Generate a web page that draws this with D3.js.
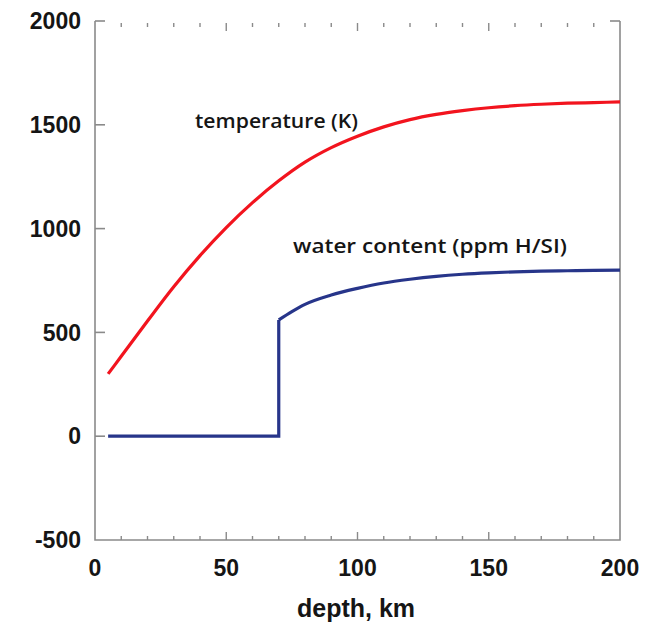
<!DOCTYPE html>
<html>
<head>
<meta charset="utf-8">
<script src="https://cdn.jsdelivr.net/npm/d3@7"></script>
<style>
  body { margin: 0; background: #fff; }
  svg text { fill: #151515; }
</style>
</head>
<body>
<div id="chart"></div>
<script>
// temperature profile (K) vs depth (km)
const tempDepth = [5, 10, 20, 30, 40, 50, 60, 70, 80, 90, 100, 110, 120, 130, 140, 150, 160, 170, 180, 190, 200];
const tempValue = [300, 385, 555, 720, 870, 1005, 1125, 1230, 1320, 1390, 1445, 1490, 1525, 1550, 1568, 1582, 1592, 1599, 1604, 1607, 1610];

// water content (ppm H/Si) vs depth (km)
const waterDepth = [5, 70, 70, 75, 80, 90, 100, 110, 120, 130, 140, 150, 160, 170, 180, 190, 200];
const waterValue = [0, 0, 560, 600, 635, 680, 712, 738, 756, 770, 780, 787, 792, 795, 797, 799, 800];

const xTicks = [0, 50, 100, 150, 200];
const yTicks = [-500, 0, 500, 1000, 1500, 2000];

const width = 650, height = 633;

const svg = d3.select("#chart")
    .append("svg")
    .attr("width", width)
    .attr("height", height);

const x = d3.scaleLinear().domain([0, 200]).range([95, 620]);
const y = d3.scaleLinear().domain([-500, 2000]).range([540, 21]);

const axisColor = "#8a8a8a";

// frame: left, bottom, right; top only near corners
const frame = svg.append("g")
    .attr("stroke", axisColor)
    .attr("stroke-width", 1.6)
    .attr("fill", "none");

frame.append("path")
    .attr("d", "M" + x(0) + "," + y(2000) + "V" + y(-500) + "H" + x(200) + "V" + y(2000));
frame.append("path")
    .attr("d", "M" + x(0) + "," + y(2000) + "h10");
frame.append("path")
    .attr("d", "M" + x(200) + "," + y(2000) + "h-10");

// ticks on x every 10 km, bottom and top, pointing inward
const xMinor = d3.range(10, 200, 10);
const tickLen = d => d % 50 === 0 ? 8 : 4;

svg.append("g")
    .selectAll("line")
    .data(xMinor)
    .enter()
    .append("line")
    .attr("x1", d => x(d))
    .attr("x2", d => x(d))
    .attr("y1", y(-500))
    .attr("y2", d => y(-500) - tickLen(d))
    .attr("stroke", axisColor)
    .attr("stroke-width", 1.4);

svg.append("g")
    .selectAll("line")
    .data(xMinor)
    .enter()
    .append("line")
    .attr("x1", d => x(d))
    .attr("x2", d => x(d))
    .attr("y1", y(2000) + 2)
    .attr("y2", d => y(2000) + 2 + tickLen(d))
    .attr("stroke", axisColor)
    .attr("stroke-width", 1.4);

// y ticks inward
svg.append("g")
    .selectAll("line")
    .data(yTicks.filter(d => d > -500 && d < 2000))
    .enter()
    .append("line")
    .attr("x1", x(0))
    .attr("x2", x(0) + 10)
    .attr("y1", d => y(d))
    .attr("y2", d => y(d))
    .attr("stroke", axisColor)
    .attr("stroke-width", 1.6);

// tick labels
svg.append("g")
    .selectAll("text")
    .data(yTicks)
    .enter()
    .append("text")
    .attr("x", 81)
    .attr("y", d => y(d))
    .attr("dy", "0.36em")
    .attr("text-anchor", "end")
    .style("font-family", "Liberation Sans, Arial, sans-serif")
    .style("font-weight", "bold")
    .style("font-size", "23px")
    .text(d => d);

svg.append("g")
    .selectAll("text")
    .data(xTicks)
    .enter()
    .append("text")
    .attr("x", d => x(d))
    .attr("y", 576)
    .attr("text-anchor", "middle")
    .style("font-family", "Liberation Sans, Arial, sans-serif")
    .style("font-weight", "bold")
    .style("font-size", "23px")
    .text(d => d);

svg.append("text")
    .attr("x", 356)
    .attr("y", 617)
    .attr("text-anchor", "middle")
    .style("font-family", "Liberation Sans, Arial, sans-serif")
    .style("font-weight", "bold")
    .style("font-size", "25px")
    .text("depth, km");

// lines
const line = d3.line()
    .x(d => x(d[0]))
    .y(d => y(d[1]))
    .curve(d3.curveMonotoneX);

svg.append("path")
    .datum(tempDepth.map((d, i) => [d, tempValue[i]]))
    .attr("d", line)
    .attr("fill", "none")
    .attr("stroke", "#f2141e")
    .attr("stroke-width", 3.2);

const waterLine = d3.line()
    .x(d => x(d[0]))
    .y(d => y(d[1]));

const waterPts = waterDepth.map((d, i) => [d, waterValue[i]]);
svg.append("path")
    .datum(waterPts.slice(0, 3))
    .attr("d", waterLine)
    .attr("fill", "none")
    .attr("stroke", "#27358a")
    .attr("stroke-width", 3.2);

svg.append("path")
    .datum(waterPts.slice(2))
    .attr("d", line)
    .attr("fill", "none")
    .attr("stroke", "#27358a")
    .attr("stroke-width", 3.2);

// annotations
svg.append("text")
    .attr("x", 195)
    .attr("y", 128)
    .attr("textLength", 163)
    .attr("lengthAdjust", "spacingAndGlyphs")
    .style("font-family", "Open Sans, sans-serif")
    .style("font-weight", 600)
    .style("font-size", "19px")
    .text("temperature (K)");

svg.append("text")
    .attr("x", 293)
    .attr("y", 253)
    .attr("textLength", 274)
    .attr("lengthAdjust", "spacingAndGlyphs")
    .style("font-family", "Open Sans, sans-serif")
    .style("font-weight", 600)
    .style("font-size", "19px")
    .text("water content (ppm H/SI)");
</script>
</body>
</html>
